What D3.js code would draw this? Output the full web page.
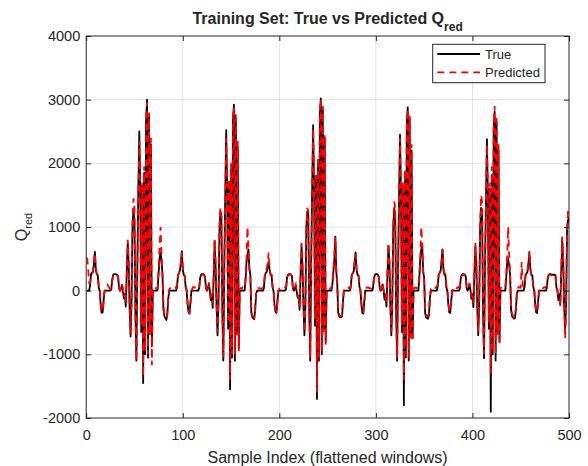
<!DOCTYPE html>
<html>
<head>
<meta charset="utf-8">
<script src="https://cdn.jsdelivr.net/npm/d3@7"></script>
<style>
  body { margin: 0; background: #fff; }
  svg { display: block; }
  text { font-family: "Liberation Sans", Arial, sans-serif; fill: #262626; }
</style>
</head>
<body>
<div id="chart"></div>
<script>
// Q_red values, one row per flattened window (x = 1..500)
const trueQ = [].concat(
  // window 1 (x 1..89)
  [0, 0, 0, 80, 260, 280, 300, 430, 610,
   320, 260, 240, 50, 0, -230, -350, -340, -160, 0,
   0, 0, 0, 0, 0, 0, 20, 180, 250, 260,
   260, 255, 250, 230, 40, 0, 20, 90, 0, -120,
   -50, -250, 300, 750, 450, -300, -720, -150, 1050, 1250,
   1100, -400, -1100, 400, 1600, 2500, 1600, -650, 1650, -1450,
   1850, -1000, 2650, 3000, -1050, 2750, -650, 2300, -870, 0,
   0, 0, 0, 0, 20, 280, 500, 600, 480, 260,
   -300, -400, -430, -460, -380, -120, 0, 0, 0, 0],
  // window 2 (x 90..179)
  [0, 0, 0, 0, 50, 240, 270, 310, 420, 620,
   340, 250, 230, 60, 0, -210, -340, -360, -180, 0,
   0, 0, 0, 0, 0, 0, 0, 40, 200, 250,
   260, 260, 250, 220, 40, 0, 40, 110, 0, -150,
   -60, -270, 200, 780, 400, -250, -700, -200, 950, 1250,
   1150, -350, -1100, 350, 1500, 2520, 1550, -600, 1700, -1550,
   1900, -1050, 2700, 2920, -1100, 2700, -650, 2250, -900, 0,
   0, 0, 0, 0, 0, 150, 450, 550, 650, 350,
   250, -350, -420, -430, -450, -300, -50, 0, 0, 0],
  // window 3 (x 180..269)
  [0, 0, 0, 0, 40, 230, 280, 300, 380, 450,
   320, 250, 240, 50, 0, -220, -330, -350, -170, 0,
   0, 0, 0, 0, 0, 0, 0, 30, 210, 250,
   260, 260, 250, 230, 50, 0, 30, 80, -20, -110,
   -80, -300, 250, 700, 380, -250, -700, -250, 1000, 1250,
   1200, -300, -1100, 450, 1600, 2600, 1650, -550, 1800, -1700,
   2000, -1100, 2800, 3020, -1000, 2850, -600, 2400, -800, 0,
   0, 0, 0, 0, 0, 100, 300, 500, 850, 300,
   100, -350, -400, -420, -420, -400, -150, 0, 0, 0],
  // window 4 (x 270..359)
  [0, 0, 0, 0, 50, 250, 270, 300, 450, 600,
   330, 250, 240, 60, 0, -220, -350, -360, -170, 0,
   0, 0, 0, 0, 0, 0, 0, 40, 200, 250,
   260, 260, 250, 220, 40, 0, 30, 100, 0, -140,
   -60, -250, 250, 700, 450, -250, -700, -200, 1000, 1300,
   1200, -350, -1100, 350, 1450, 2450, 1550, -650, 1650, -1800,
   1800, -1050, 2600, 2880, -1100, 2700, -700, 2200, -750, 0,
   0, 0, 0, 0, 0, 200, 500, 650, 700, 300,
   200, -350, -420, -430, -440, -380, -100, 0, 0, 0],
  // window 5 (x 360..449)
  [0, 0, 0, 0, 60, 250, 280, 300, 450, 650,
   330, 250, 240, 50, 0, -210, -340, -350, -170, 0,
   0, 0, 0, 0, 0, 0, 0, 40, 210, 250,
   260, 260, 250, 230, 40, 0, 30, 90, 0, -130,
   -60, -260, 250, 700, 450, -250, -700, -200, 1000, 1300,
   1200, -350, -1060, 350, 1400, 2380, 1500, -600, 1600, -1900,
   1800, -1000, 2550, 2810, -1100, 2650, -650, 2200, -800, 0,
   0, 0, 0, 0, 0, 200, 450, 500, 400, 250,
   -300, -400, -420, -440, -430, -300, -50, 0, 0, 0],
  // window 6 (x 450..500)
  [0, 0, 0, 0, 60, 250, 270, 300, 430, 600,
   330, 250, 240, 60, 0, -220, -340, -350, -170, 0,
   0, 0, 0, 0, 0, 0, 0, 40, 200, 250,
   260, 260, 250, 250, 250, 250, 240, 50, 0, -150,
   -60, -200, 300, 800, 450, -250, -600, -250, 950, 1100,
   1160]
);

const predQ = [].concat(
  [520, 350, 120, 120, 230, 260, 300, 450, 590,
   350, 270, 250, 80, 20, -180, -320, -330, -190, -20,
   30, 50, 90, 70, 40, 20, 40, 150, 240, 250,
   250, 260, 240, 220, 60, 10, 60, 110, 40, -90,
   -60, -200, 250, 800, 500, -250, -680, -100, 1100, 1450,
   1300, -300, -1100, 300, 1450, 2350, 1500, -550, 1700, -1350,
   1950, -950, 2700, 2950, -1000, 2800, -700, 2400, -1170, 30,
   50, 40, 40, 30, 60, 350, 700, 1000, 550, 250,
   -250, -380, -420, -430, -350, -100, 20, 40, 40, 20],
  [30, 40, 50, 40, 90, 220, 280, 330, 450, 600,
   360, 260, 240, 80, 20, -180, -320, -340, -200, -10,
   40, 60, 50, 50, 40, 30, 60, 60, 180, 240,
   250, 250, 240, 210, 60, 20, 80, 130, -20, -100,
   -80, -220, 250, 800, 450, -200, -650, -150, 1000, 1300,
   1200, -250, -1050, 300, 1400, 2400, 1500, -500, 1750, -1400,
   2000, -1000, 2750, 2880, -1000, 2800, -700, 2350, -950, 30,
   40, 30, 50, 40, 30, 200, 500, 1000, 700, 330,
   220, -300, -400, -400, -420, -280, -30, 30, 40, 30],
  [40, 30, 30, 50, 80, 250, 300, 350, 450, 600,
   330, 250, 250, 70, 10, -200, -300, -330, -190, -10,
   30, 40, 50, 40, 30, 40, 50, 60, 200, 240,
   250, 250, 250, 220, 60, 20, 60, 100, 0, -80,
   -100, -250, 300, 750, 450, -200, -650, -200, 1050, 1300,
   1250, -250, -1050, 400, 1500, 2550, 1600, -450, 1850, -1600,
   2100, -1050, 2850, 3000, -950, 2900, -650, 2450, -850, 20,
   30, 40, 30, 40, 30, 150, 350, 550, 850, 350,
   120, -300, -380, -400, -400, -380, -120, 30, 30, 40],
  [40, 40, 50, 40, 80, 230, 280, 320, 470, 580,
   350, 260, 250, 80, 20, -180, -320, -330, -190, -10,
   40, 50, 50, 40, 40, 30, 60, 60, 190, 240,
   250, 250, 240, 210, 60, 20, 60, 120, 20, -100,
   -80, -200, 300, 750, 500, -200, -650, -150, 1050, 1400,
   1300, -250, -1050, 300, 1400, 2400, 1500, -550, 1700, -1400,
   1900, -1000, 2650, 2850, -1050, 2750, -750, 2300, -800, 30,
   40, 50, 40, 50, 50, 250, 550, 1000, 750, 300,
   200, -300, -380, -400, -400, -350, -80, 30, 50, 40],
  [40, 30, 50, 60, 100, 230, 280, 340, 480, 650,
   360, 270, 260, 80, 20, -180, -310, -330, -190, -10,
   50, 60, 50, 40, 40, 50, 60, 70, 200, 240,
   250, 250, 240, 220, 70, 30, 70, 120, 30, -80,
   -80, -200, 300, 750, 500, -200, -650, -150, 1100, 1500,
   1400, -250, -1000, 300, 1350, 2300, 1450, -500, 1700, -1300,
   1950, -950, 2600, 2900, -1000, 2750, -700, 2300, -850, 40,
   50, 60, 50, 60, 50, 250, 550, 1000, 550, 300,
   -250, -360, -400, -420, -400, -280, -30, 40, 60, 50],
  [50, 450, 100, 60, 100, 230, 280, 330, 460, 620,
   350, 260, 250, 80, 20, -180, -320, -330, -190, -10,
   50, 60, 50, 40, 50, 50, 60, 70, 190, 240,
   250, 250, 240, 240, 250, 240, 220, 70, 20, -100,
   -100, -250, 350, 850, 500, -200, -750, -300, 1000, 1250,
   1300]
);

const xTicks = [0, 100, 200, 300, 400, 500];
const yTicks = [-2000, -1000, 0, 1000, 2000, 3000, 4000];

const W = 588, H = 466;
const margin = { top: 36, right: 19, bottom: 48, left: 86.2 };
const innerW = W - margin.left - margin.right;
const innerH = H - margin.top - margin.bottom;

const svg = d3.select("#chart").append("svg")
  .attr("width", W)
  .attr("height", H);

const g = svg.append("g")
  .attr("transform", `translate(${margin.left},${margin.top})`);

const x = d3.scaleLinear().domain([0, 500]).range([0, innerW]);
const y = d3.scaleLinear().domain([-2000, 4000]).range([innerH, 0]);

// grid
g.append("g").selectAll("line")
  .data(xTicks.slice(1, -1))
  .enter().append("line")
  .attr("x1", d => x(d)).attr("x2", d => x(d))
  .attr("y1", 0).attr("y2", innerH)
  .attr("stroke", "#e3e3e3");

g.append("g").selectAll("line")
  .data(yTicks.slice(1, -1))
  .enter().append("line")
  .attr("x1", 0).attr("x2", innerW)
  .attr("y1", d => y(d)).attr("y2", d => y(d))
  .attr("stroke", "#e3e3e3");

// lines
g.append("clipPath").attr("id", "clip")
  .append("rect").attr("width", innerW).attr("height", innerH);

const line = d3.line()
  .x((d, i) => x(i + 1))
  .y(d => y(d));

g.append("path")
  .datum(trueQ)
  .attr("clip-path", "url(#clip)")
  .attr("fill", "none")
  .attr("stroke", "#000")
  .attr("stroke-width", 1.8)
  .attr("stroke-linejoin", "round")
  .attr("d", line);

g.append("path")
  .datum(predQ)
  .attr("clip-path", "url(#clip)")
  .attr("fill", "none")
  .attr("stroke", "#ff0000")
  .attr("stroke-width", 1.8)
  .attr("stroke-dasharray", "7 5")
  .attr("d", line);

// axes (ticks inward, on all four sides)
const axisColor = "#262626";
const plain = d => String(d);
function styleAxis(sel) {
  sel.select(".domain").remove();
  sel.selectAll(".tick line").attr("stroke", axisColor);
  sel.selectAll("text")
    .style("font-family", '"Liberation Sans", Arial, sans-serif')
    .style("font-size", "14.5px")
    .attr("fill", axisColor);
}

g.append("g")
  .attr("transform", `translate(0,${innerH})`)
  .call(d3.axisBottom(x).tickValues(xTicks).tickFormat(plain).tickSize(-5).tickPadding(12))
  .call(styleAxis);

g.append("g")
  .call(d3.axisTop(x).tickValues(xTicks).tickSize(-5).tickFormat(""))
  .call(styleAxis);

g.append("g")
  .call(d3.axisLeft(y).tickValues(yTicks).tickFormat(plain).tickSize(-5).tickPadding(6))
  .call(styleAxis);

g.append("g")
  .attr("transform", `translate(${innerW},0)`)
  .call(d3.axisRight(y).tickValues(yTicks).tickSize(-5).tickFormat(""))
  .call(styleAxis);

g.append("rect")
  .attr("width", innerW).attr("height", innerH)
  .attr("fill", "none")
  .attr("stroke", axisColor)
  .attr("stroke-width", 1);

// title
const title = svg.append("text")
  .attr("x", margin.left + innerW / 2)
  .attr("y", 24)
  .attr("text-anchor", "middle")
  .style("font-size", "16px")
  .style("font-weight", "bold")
  .attr("fill", "#000");
title.append("tspan").text("Training Set: True vs Predicted Q");
title.append("tspan").attr("dy", 7).style("font-size", "12px").text("red");

// axis labels
svg.append("text")
  .attr("x", margin.left + innerW / 2)
  .attr("y", 463)
  .attr("text-anchor", "middle")
  .style("font-size", "16px")
  .text("Sample Index (flattened windows)");

const ylab = svg.append("text")
  .attr("transform", `translate(27,${margin.top + innerH / 2}) rotate(-90)`)
  .attr("text-anchor", "middle")
  .style("font-size", "16px");
ylab.append("tspan").text("Q");
ylab.append("tspan").attr("dy", 5).style("font-size", "11px").text("red");

// legend
const legend = svg.append("g").attr("transform", "translate(432.7,44.3)");
legend.append("rect")
  .attr("width", 112.3).attr("height", 38.4)
  .attr("fill", "#fff")
  .attr("stroke", axisColor);
legend.append("line")
  .attr("x1", 4.6).attr("x2", 47.3).attr("y1", 9.7).attr("y2", 9.7)
  .attr("stroke", "#000").attr("stroke-width", 1.8);
legend.append("text")
  .attr("x", 52.3).attr("y", 14.6)
  .style("font-size", "13px")
  .text("True");
legend.append("line")
  .attr("x1", 4.6).attr("x2", 47.3).attr("y1", 28).attr("y2", 28)
  .attr("stroke", "#ff0000").attr("stroke-width", 1.8)
  .attr("stroke-dasharray", "7 5");
legend.append("text")
  .attr("x", 52.3).attr("y", 32.9)
  .style("font-size", "13px")
  .text("Predicted");
</script>
</body>
</html>
